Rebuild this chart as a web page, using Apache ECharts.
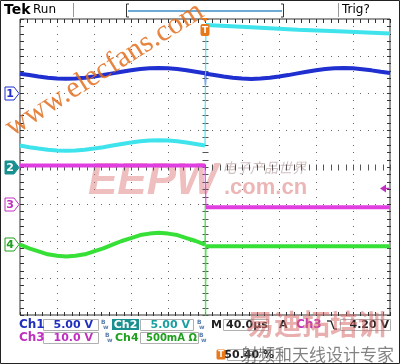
<!DOCTYPE html>
<html><head><meta charset="utf-8">
<script src="https://cdn.jsdelivr.net/npm/echarts/dist/echarts.min.js"></script>
<style>html,body{margin:0;padding:0;background:#fff}#c{width:400px;height:364px}</style>
</head><body><div id="c"></div>
<script>
// ---- scope settings ----
const chNames = ['Ch1', 'Ch2', 'Ch3', 'Ch4'];
const chScale = [5, 5, 10, 0.5];            // units per division
const chGround = [2.0, 0.0, -1.0, -2.08];   // ground reference (divisions)
const chColors = ['#1f2fd0', '#3fe3ec', '#e03ee0', '#36e036'];
const timeMin = -200, timeMax = 200, timePerDiv = 40; // µs
const divMin = -4, divMax = 4, minorPerDiv = 5;
const trigLevelCh3 = 4.2; // V

// ---- waveform readings (time in µs) ----
const ch1Time = [-200,-190,-180,-170,-160,-150,-140,-130,-120,-110,-100,-90,-80,-70,-60,-50,-40,-30,-20,-10,0,0.5,
                 1,10,20,30,40,50,60,70,80,90,100,110,120,130,140,150,160,170,180,190,200];
const ch1Volt = [2.6,2.42,2.22,2.06,1.97,1.93,1.97,2.07,2.23,2.43,2.65,2.87,3.07,3.23,3.33,3.37,3.33,3.23,3.07,2.87,2.66,1.1,
                 2.6,2.43,2.23,2.07,1.96,1.9,1.95,2.05,2.22,2.42,2.65,2.87,3.07,3.24,3.34,3.37,3.33,3.22,3.06,2.86,2.7];
const ch2Time = [-200,-190,-180,-170,-160,-150,-140,-130,-120,-110,-100,-90,-80,-70,-60,-50,-40,-30,-20,-10,0,
                 1,50,100,150,200];
const ch2Volt = [2.9,2.68,2.49,2.33,2.23,2.2,2.23,2.33,2.49,2.68,2.9,3.12,3.31,3.47,3.57,3.6,3.57,3.47,3.31,3.12,2.9,
                 19.2,18.9,18.55,18.3,18.05];
const ch3Time = [-200, 0, 1, 200];
const ch3Volt = [10.4, 10.4, -0.9, -0.9];
const ch4Time = [-200,-190,-180,-170,-160,-150,-140,-130,-120,-110,-100,-90,-80,-70,-60,-50,-40,-30,-20,-10,0,0.3,0.6,
                 1,200];
const ch4Amp  = [-0.01,-0.06,-0.1,-0.14,-0.16,-0.17,-0.16,-0.14,-0.1,-0.06,-0.01,0.04,0.08,0.12,0.14,0.15,0.14,0.12,0.08,0.04,-0.01,0.52,-1.0,
                 -0.03,-0.03];

const times = [ch1Time, ch2Time, ch3Time, ch4Time];
const vals = [ch1Volt, ch2Volt, ch3Volt, ch4Amp];

const chart = echarts.init(document.getElementById('c'), null, {renderer: 'canvas'});
const border = '#333', dotC = '#666', centerC = '#555';
const toDiv = (c, v) => chGround[c] + v / chScale[c];

// traces: pre-trigger, fast trigger edge (thin), post-trigger
const series = [];
times.forEach((tArr, c) => {
  const pts = tArr.map((t, i) => [t, toDiv(c, vals[c][i])]);
  const pre = pts.filter(p => p[0] <= 0);
  const post = pts.filter(p => p[0] >= 1);
  const edge = [pre[pre.length - 1]].concat(pts.filter(p => p[0] > 0 && p[0] < 1), [post[0]]);
  [pre, post].forEach(part => series.push({
    name: chNames[c], type: 'line', data: part, showSymbol: false, silent: true, zlevel: 1,
    lineStyle: {color: chColors[c], width: 4}, z: 5 + c
  }));
  series.push({
    name: chNames[c] + ' edge', type: 'line', data: edge, showSymbol: false, silent: true, zlevel: 1,
    lineStyle: {color: chColors[c], width: 1.3, opacity: 0.85}, z: 4
  });
});

chart.setOption({
  animation: false,
  grid: {left: 20, top: 19, width: 370, height: 296, show: true, borderColor: border, borderWidth: 1, backgroundColor: 'transparent'},
  xAxis: {type: 'value', min: timeMin, max: timeMax, interval: timePerDiv, show: false},
  yAxis: {type: 'value', min: divMin, max: divMax, interval: 1, show: false},
  series: series
});

// ---- graticule and overlays, positioned through the chart's scales ----
const px = (t, d) => chart.convertToPixel({xAxisIndex: 0, yAxisIndex: 0}, [t, d]);
const g = [];
const ln = (x1, y1, x2, y2, col, w, z, zl) => g.push({type: 'line', shape: {x1: x1, y1: y1, x2: x2, y2: y2},
  style: {stroke: col, lineWidth: w || 1}, z: z || 10, zlevel: zl == null ? 2 : zl, silent: true});

const tMinor = [], dMinor = [];
for (let i = 0; i <= (timeMax - timeMin) / timePerDiv * minorPerDiv; i++) tMinor.push(timeMin + i * timePerDiv / minorPerDiv);
for (let i = 0; i <= (divMax - divMin) * minorPerDiv; i++) dMinor.push(divMin + i / minorPerDiv);
const tMajor = tMinor.filter((t, i) => i % minorPerDiv === 0);
const dMajor = dMinor.filter((d, i) => i % minorPerDiv === 0);
const X = t => Math.round(px(t, 0)[0]);
const Y = d => Math.round(px(0, d)[1]);
const L = X(timeMin), R = X(timeMax), T = Y(divMax), B = Y(divMin), CX = X(0), CY = Y(0);

// dotted grid
tMajor.slice(1, -1).forEach(t => dMinor.forEach(d => g.push({type: 'rect', shape: {x: X(t), y: Y(d), width: 1, height: 1}, style: {fill: dotC}, z: 0, zlevel: 0, silent: true})));
dMajor.slice(1, -1).forEach(d => tMinor.forEach(t => g.push({type: 'rect', shape: {x: X(t), y: Y(d), width: 1, height: 1}, style: {fill: dotC}, z: 0, zlevel: 0, silent: true})));
// border ticks
tMinor.forEach(t => { ln(X(t) + 0.5, T, X(t) + 0.5, T + 4, border, 1, 0, 0); ln(X(t) + 0.5, B - 3, X(t) + 0.5, B + 1, border, 1, 0, 0); });
dMinor.forEach(d => { ln(L, Y(d) + 0.5, L + 4, Y(d) + 0.5, border, 1, 0, 0); ln(R - 3, Y(d) + 0.5, R + 1, Y(d) + 0.5, border, 1, 0, 0); });
// centre cross ticks
tMinor.forEach(t => ln(X(t) + 0.5, CY - 2.5, X(t) + 0.5, CY + 3.5, centerC, 1, 0, 0));
dMinor.forEach(d => ln(CX - 2.5, Y(d) + 0.5, CX + 3.5, Y(d) + 0.5, centerC, 1, 0, 0));

// outer frame
ln(0.5, 0.5, 399.5, 0.5, '#222'); ln(0.5, 363.5, 399.5, 363.5, '#222'); ln(0.5, 0.5, 0.5, 363.5, '#222'); ln(399.5, 0.5, 399.5, 363.5, '#222');

// channel ground markers
const mFill = ['#fff', '#1a8f90', '#fff', '#fff'];
const mText = ['#1f2fd0', '#fff', '#c030c0', '#1fa01f'];
const mStroke = ['#1f2fd0', '#1a8f90', '#c030c0', '#1fa01f'];
chGround.forEach((gd, c) => {
  const y = Math.round(px(timeMin, gd)[1]) + 0.5;
  g.push({type: 'polygon', shape: {points: [[5, y - 6.5], [14, y - 6.5], [19, y], [14, y + 6.5], [5, y + 6.5]]},
    style: {fill: mFill[c], stroke: mStroke[c], lineWidth: 1}, z: 20, zlevel: 2});
  g.push({type: 'text', x: 10, y: y + 0.5, style: {text: String(c + 1), fill: mText[c], font: 'bold 11px "DejaVu Sans"', align: 'center', verticalAlign: 'middle'}, z: 21, zlevel: 2});
});

// ch3 trigger level arrow on right edge
const tl = px(timeMax, toDiv(2, trigLevelCh3));
g.push({type: 'polygon', shape: {points: [[tl[0] - 10, tl[1]], [tl[0] - 4, tl[1] - 4], [tl[0] - 4, tl[1] + 4]]}, style: {fill: '#c030c0'}, z: 20, zlevel: 2});
ln(tl[0] - 5, tl[1], tl[0] - 1, tl[1], '#c030c0', 1.5, 20);

// trigger position marker
const tp = px(0, divMax);
g.push({type: 'polygon', shape: {points: [[tp[0] - 3.5, tp[1] - 1], [tp[0] + 3.5, tp[1] - 1], [tp[0], tp[1] + 3]]}, style: {fill: '#e87818'}, z: 20, zlevel: 2});
g.push({type: 'rect', shape: {x: tp[0] - 4.5, y: tp[1] + 5, width: 9, height: 12, r: 2}, style: {fill: '#e87818'}, z: 20, zlevel: 2});
g.push({type: 'text', x: tp[0], y: tp[1] + 11.5, style: {text: 'T', fill: '#fff', font: 'bold 9px "DejaVu Sans"', align: 'center', verticalAlign: 'middle'}, z: 21, zlevel: 2});

// top status bar
const txtN = (s, x, y, font) => g.push({type: 'text', x: x, y: y, style: {text: s, fill: '#000', font: font, verticalAlign: 'middle'}, z: 10, zlevel: 2});
txtN('Tek', 4, 10, 'bold 14px "DejaVu Sans"');
txtN('Run', 33, 10, '12px "DejaVu Sans"');
txtN('Trig?', 342, 10, '12px "DejaVu Sans"');
ln(73.5, 3, 73.5, 17, '#999'); ln(338.5, 3, 338.5, 17, '#999');
ln(129, 4, 126.5, 4, '#333'); ln(126.5, 4, 126.5, 17, '#333'); ln(126.5, 17, 129, 17, '#333');
ln(281, 4, 283.5, 4, '#333'); ln(283.5, 4, 283.5, 17, '#333'); ln(283.5, 17, 281, 17, '#333');
ln(128, 11, 282, 11, '#3d8fc8', 1.5);

// readout boxes
const boxes = [[43, 319, 55, 11], [140, 319, 53, 11], [223, 319, 45, 11], [340, 319, 50, 11],
               [43, 332, 55, 11], [140, 332, 58, 11], [227, 349, 55, 11]];
boxes.forEach(b => {
  const x0 = b[0] + 0.5, y0 = b[1] + 0.5, x1 = x0 + b[2], y1 = y0 + b[3];
  ln(x0, y0, x1, y0, '#b0b0b0', 1, 9); ln(x0, y1, x1, y1, '#b0b0b0', 1, 9);
  ln(x0, y0, x0, y1, '#b0b0b0', 1, 9); ln(x1, y0, x1, y1, '#b0b0b0', 1, 9);
});
g.push({type: 'rect', shape: {x: 112, y: 319, width: 27, height: 11}, style: {fill: '#1a8f90'}, z: 9, zlevel: 2});
g.push({type: 'rect', shape: {x: 216.5, y: 349.5, width: 9, height: 10, r: 1.5}, style: {fill: '#e87818'}, z: 9, zlevel: 2});
const txt = (s, x, y, col, size, align) => g.push({type: 'text', x: x, y: y,
  style: {text: s, fill: col, font: 'bold ' + (size || 11) + 'px "DejaVu Sans"', align: align || 'left', verticalAlign: 'middle'}, z: 11, zlevel: 2});
txt('Ch1', 19, 325, '#1f2fc0', 12);
txt('5.00 V', 93, 325, '#1f2fc0', 11, 'right');
txt('Ch2', 125.5, 325, '#fff', 11, 'center');
txt('5.00 V', 190, 325, '#1a9fa0', 11, 'right');
txt('M', 211, 325, '#222', 11);
txt('40.0µs', 226, 325, '#222', 11);
txt('A', 279, 325, '#222', 11);
txt('Ch3', 296, 325, '#c030c0', 12);
txt('4.20 V', 389, 325, '#222', 11, 'right');
txt('Ch3', 19, 338, '#c030c0', 12);
txt('10.0 V', 93, 338, '#c030c0', 11, 'right');
txt('Ch4', 115, 338, '#1fa01f', 11);
txt('500mA Ω', 197, 338, '#1fa01f', 10, 'right');
txt('T', 221, 355, '#fff', 8, 'center');
txt('50.40 %', 274, 355, '#222', 11, 'right');
ln(327, 321, 331, 321, '#222', 1.3, 11); ln(331, 321, 334, 329, '#222', 1.3, 11); ln(334, 329, 337, 329, '#222', 1.3, 11);
[[101, 322], [197, 322], [105, 335], [199, 335]].forEach(p => {
  g.push({type: 'text', x: p[0], y: p[1], style: {text: 'B', fill: '#5a7fb0', font: 'bold 6px "DejaVu Sans"', verticalAlign: 'middle'}, z: 11, zlevel: 2});
  g.push({type: 'text', x: p[0] + 2, y: p[1] + 5, style: {text: 'w', fill: '#5a7fb0', font: 'bold 6px "DejaVu Sans"', verticalAlign: 'middle'}, z: 11, zlevel: 2});
});

// watermarks
const wm = (s, x, y, col, font, extra) => g.push(Object.assign({type: 'text', x: x, y: y, style: {text: s, fill: col, font: font, verticalAlign: 'middle'}, z: 30, zlevel: 2}, extra || {}));
wm('www.elecfans.com', 8, 130, 'rgba(226,110,30,0.85)', '30px "Liberation Serif"', {rotation: 0.56});
wm('EEPW', 88, 182, 'rgba(220,110,110,0.45)', 'italic bold 44px "Liberation Sans"', {z: 3, zlevel: 0});
wm('电子产品世界', 222, 168, 'rgba(170,140,140,0.55)', 'italic 14px "Noto Sans CJK SC"', {z: 3, zlevel: 0});
wm('.com.cn', 224, 188, 'rgba(220,110,110,0.5)', 'bold 22px "Liberation Sans"', {z: 3, zlevel: 0});
wm('易迪拓培训', 246, 324, 'rgba(215,110,110,0.55)', 'bold 28px "Noto Sans CJK SC"');
wm('射频和天线设计专家', 241, 355, 'rgba(90,90,90,0.75)', '17px "Noto Sans CJK SC"');

chart.setOption({graphic: {elements: g}});
</script></body></html>
